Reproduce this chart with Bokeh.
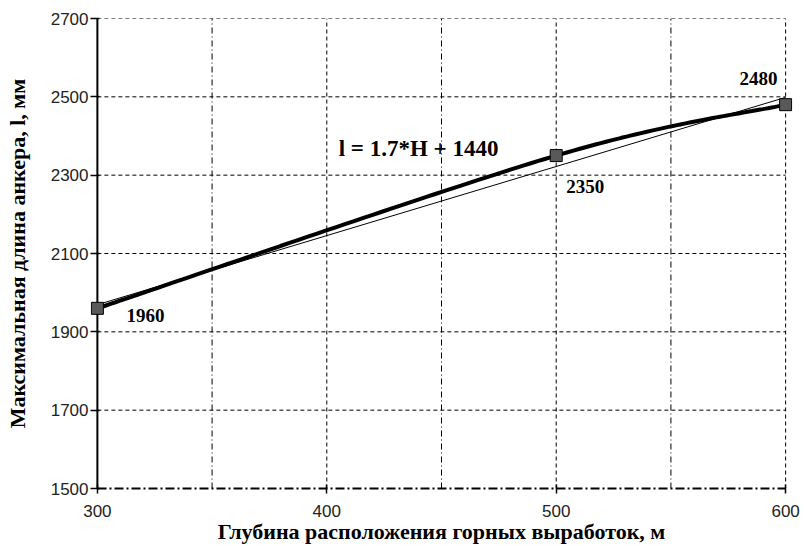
import numpy as np
from bokeh.plotting import figure
from bokeh.models import FixedTicker, Label, Range1d
from bokeh.core.properties import value
from bokeh.embed import file_html
from bokeh.resources import INLINE

# ---- data ----
depth = [300, 500, 600]
anchor_len = [1960, 2350, 2480]
point_labels = ["1960", "2350", "2480"]
x_ticks = [300, 400, 500, 600]
y_ticks = [1500, 1700, 1900, 2100, 2300, 2500, 2700]
x_grid_major = [400, 500, 600]
x_grid_minor = [350, 450, 550]
y_grid = [1700, 1900, 2100, 2300, 2500, 2700]
equation = "l = 1.7*H + 1440"
x_title = "Глубина расположения горных выработок, м"
y_title = "Максимальная длина анкера, l, мм"

X_MIN, X_MAX = 300, 600
Y_MIN, Y_MAX = 1500, 2700


def smooth(xs, ys, n=60):
    """Excel-like smoothed line (Catmull-Rom Bezier through the points)."""
    pts = np.column_stack([xs, ys]).astype(float)
    P = np.vstack([pts[0], pts, pts[-1]])
    t = np.linspace(0, 1, n)[:, None]
    out = []
    for i in range(1, len(P) - 2):
        p0, p3 = P[i], P[i + 1]
        c1 = P[i] + (P[i + 1] - P[i - 1]) / 6.0
        c2 = P[i + 1] - (P[i + 2] - P[i]) / 6.0
        seg = (1 - t) ** 3 * p0 + 3 * (1 - t) ** 2 * t * c1 + 3 * (1 - t) * t ** 2 * c2 + t ** 3 * p3
        out.append(seg if i == 1 else seg[1:])
    s = np.vstack(out)
    return s[:, 0], s[:, 1]


SERIF = value("Liberation Serif")
PAD = 3  # small x padding so the end markers are not clipped

p = figure(width=800, height=546,
           x_range=Range1d(X_MIN - PAD, X_MAX + PAD), y_range=Range1d(Y_MIN, Y_MAX),
           output_backend="svg", toolbar_location=None,
           min_border_left=90, min_border_right=8,
           min_border_top=18, min_border_bottom=58)
p.background_fill_color = "white"
p.border_fill_color = "white"
p.outline_line_color = None
p.xgrid.grid_line_color = None
p.ygrid.grid_line_color = None

# grid lines drawn from the tick lists
p.segment(x0=[X_MIN] * len(y_grid), x1=[X_MAX] * len(y_grid), y0=y_grid, y1=y_grid,
          line_color="black", line_width=1, line_dash="4 3", level="underlay")
p.segment(x0=x_grid_major, x1=x_grid_major, y0=[Y_MIN] * len(x_grid_major),
          y1=[Y_MAX] * len(x_grid_major),
          line_color="black", line_width=1, line_dash="4 3", level="underlay")
p.segment(x0=x_grid_minor, x1=x_grid_minor, y0=[Y_MIN] * len(x_grid_minor),
          y1=[Y_MAX] * len(x_grid_minor),
          line_color="black", line_width=1, line_dash="6 3 1 3", level="underlay")

# solid vertical axis line at the start of the x scale
p.segment(x0=[X_MIN], x1=[X_MIN], y0=[Y_MIN], y1=[Y_MAX],
          line_color="black", line_width=2)

# axes
p.xaxis.ticker = FixedTicker(ticks=x_ticks)
p.yaxis.ticker = FixedTicker(ticks=y_ticks)
p.xaxis.bounds = (X_MIN, X_MAX)
for ax in (p.xaxis[0], p.yaxis[0]):
    ax.axis_line_color = "black"
    ax.axis_line_width = 2
    ax.major_tick_line_color = "black"
    ax.major_tick_line_width = 1.5
    ax.major_tick_in = 4
    ax.major_tick_out = 5
    ax.minor_tick_line_color = None
    ax.major_label_text_font = "Liberation Sans"
    ax.major_label_text_font_size = "17px"
    ax.major_label_text_color = "#222222"
    ax.axis_label_text_font = "Liberation Serif"
    ax.axis_label_text_font_style = "bold"
    ax.axis_label_text_font_size = "22px"
    ax.axis_label_text_color = "black"
p.xaxis.axis_line_dash = "9 3 2 3"
p.xaxis.major_label_standoff = 11
p.xaxis.axis_label_standoff = -1
p.yaxis.axis_line_color = None
p.yaxis.major_tick_in = 9
p.yaxis.major_tick_out = 0
p.yaxis.major_label_standoff = 2
p.yaxis.axis_label_standoff = 18
p.xaxis.axis_label = x_title
p.yaxis.axis_label = y_title

# linear trend line over the data range
k, b = np.polyfit(depth, anchor_len, 1)
tx = np.array([min(depth), max(depth)], dtype=float)
p.line(tx, k * tx + b, line_color="black", line_width=1)

# smoothed data curve
sx, sy = smooth(depth, anchor_len)
p.line(sx, sy, line_color="black", line_width=4)

# markers
p.scatter(depth, anchor_len, marker="square", size=12,
          fill_color="#595959", line_color="black", line_width=1)

# point value labels
p.text(x=depth, y=anchor_len, text=point_labels,
       x_offset=[48, 29, -27], y_offset=[7, 31, -26],
       text_align="center", text_baseline="middle",
       text_font=SERIF, text_font_style="bold", text_font_size="19px",
       text_color="black")

# equation
p.add_layout(Label(x=440, y=2367, text=equation, text_align="center",
                   text_baseline="middle", text_font="Liberation Serif",
                   text_font_style="bold", text_font_size="23px",
                   text_color="black"))

open("out.html", "w").write(file_html(p, INLINE))
